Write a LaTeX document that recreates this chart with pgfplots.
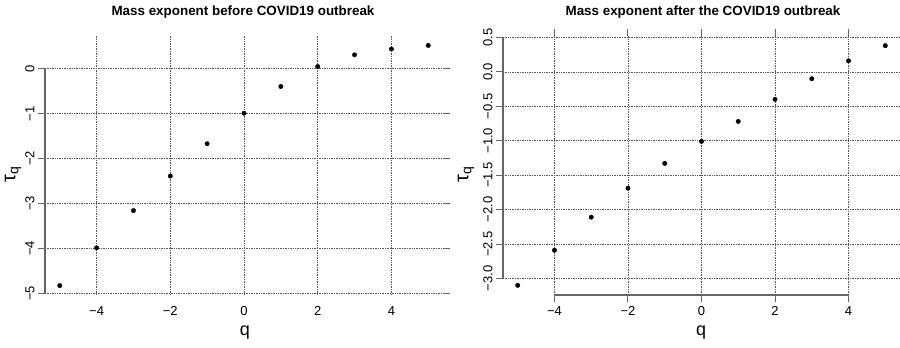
\documentclass[border=0pt]{standalone}
\usepackage{fontspec}
\setmainfont{Liberation Sans}
\usepackage{pgfplots}
\pgfplotsset{compat=1.18}
\begin{document}
\begin{tikzpicture}[x=1pt,y=1pt]
\path[use as bounding box] (0,0) rectangle (900,348);
\pgfplotsset{
  rplot/.style={
    scale only axis,
    height=259pt,
    xmin=-5.4, xmax=5.4,
    axis line style={draw=none},
    tick align=outside,
    major tick length=7pt,
    xtick={-4,-2,0,2,4},
    xticklabels={−4,−2,0,2,4},
    grid=major,
    major grid style={black!65, line width=0.6pt, dash pattern=on 0.8pt off 0.9pt},
    tick label style={font=\fontsize{13}{13}\selectfont},
    xticklabel style={yshift=-1pt},
    yticklabel style={rotate=90, anchor=south},
    ytick style={draw=black!60, line width=1pt},
    xtick style={draw=black!60, line width=1pt},
    clip=false,
  }
}
% Left
\begin{axis}[rplot, at={(45pt,53pt)}, anchor=south west, width=398pt,
  ymin=-5.04, ymax=0.73,
  ytick={-5,-4,-3,-2,-1,0},
  yticklabels={−5,−4,−3,−2,−1,0},
  xtick style={draw=none},
]
\draw[black!60, line width=1.3pt] (axis cs:-5.4,-5) -- (axis cs:-5.4,0);
\addplot[only marks, mark=*, mark size=2.2pt, black] coordinates {
(-5,-4.83) (-4,-3.99) (-3,-3.16) (-2,-2.39) (-1,-1.67) (0,-0.99)
(1,-0.395) (2,0.05) (3,0.31) (4,0.44) (5,0.52)};
\end{axis}
% Right
\begin{axis}[rplot, at={(503pt,53pt)}, anchor=south west, width=397pt,
  ymin=-3.24, ymax=0.52,
  ytick={-3,-2.5,-2,-1.5,-1,-0.5,0,0.5},
  yticklabels={−3.0,−2.5,−2.0,−1.5,−1.0,−0.5,0.0,0.5},
]
\draw[black!60, line width=1.3pt] (axis cs:-5.4,-3) -- (axis cs:-5.4,0.5);
\draw[black!60, line width=1.3pt] (axis cs:-4,-3.24) -- (axis cs:4,-3.24);
\addplot[only marks, mark=*, mark size=2.2pt, black] coordinates {
(-5,-3.10) (-4,-2.59) (-3,-2.11) (-2,-1.69) (-1,-1.33) (0,-1.01)
(1,-0.72) (2,-0.40) (3,-0.10) (4,0.16) (5,0.38)};
\end{axis}
% Titles and labels
\node[font=\bfseries\fontsize{13.4}{14}\selectfont] at (243,336) {Mass exponent before COVID19 outbreak};
\node[font=\bfseries\fontsize{13.4}{14}\selectfont] at (703,336) {Mass exponent after the COVID19 outbreak};
\node[font=\fontsize{18}{18}\selectfont] at (245,15) {q};
\node[font=\fontsize{18}{18}\selectfont] at (701,15) {q};
\node[rotate=90, font=\fontsize{20}{20}\selectfont] at (13,174) {τ\textsubscript{q}};
\node[rotate=90, font=\fontsize{20}{20}\selectfont] at (466,174) {τ\textsubscript{q}};
\end{tikzpicture}
\end{document}
